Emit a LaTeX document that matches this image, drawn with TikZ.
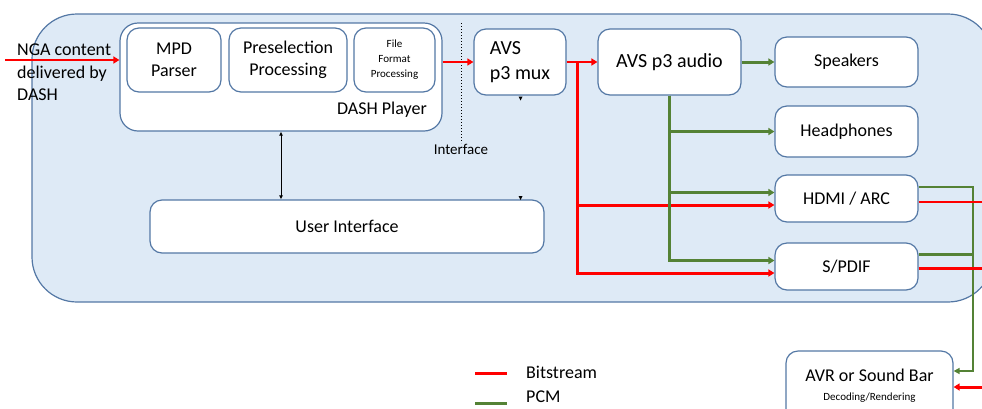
\documentclass[tikz,border=0pt]{standalone}
\usepackage{fontspec}
\setmainfont{Carlito}
\usetikzlibrary{arrows.meta,calc}
\definecolor{bxline}{RGB}{84,120,165}
\definecolor{bgblue}{RGB}{222,234,246}
\definecolor{pcmgreen}{RGB}{84,130,53}
\definecolor{bsred}{RGB}{255,0,0}
\tikzset{
 box/.style={draw=bxline, line width=1.2pt, fill=white, rounded corners=12pt, inner sep=0pt, align=center, font=\fontsize{18}{22}\selectfont},
 outerbox/.style={draw=bxline, line width=1.2pt, fill=bgblue, rounded corners=45pt},
 bs/.style={draw=bsred, line width=3pt},
 bsmid/.style={draw=bsred, line width=2.2pt},
 bsthin/.style={draw=bsred, line width=1.3pt},
 pcm/.style={draw=pcmgreen, line width=3pt},
 pcmthin/.style={draw=pcmgreen, line width=2pt},
 tipr/.style={-{Triangle[length=6pt,width=7pt]}},
 txt/.style={inner sep=0pt, font=\fontsize{18}{22}\selectfont},
 blk/.style={draw=black, line width=1pt},
}
\begin{document}
\begin{tikzpicture}[x=1pt,y=-1pt]
\useasboundingbox (0,0) rectangle (982,408);
\clip (0,0) rectangle (982,408);
% outer container
\draw[outerbox] (32,14) rectangle (993,302);
% DASH player group
\node[box, rounded corners=18pt, minimum width=322pt, minimum height=108pt] (dash) at (281,77) {};
\node[box, minimum width=94pt, minimum height=64pt] (mpd) at (174,60) {MPD\\Parser};
\node[box, minimum width=118pt, minimum height=64pt] (presel) at (288,60) {Preselection\\Processing};
\node[box, minimum width=81pt, minimum height=64pt, font=\fontsize{11}{15}\selectfont] (ffp) at (394.5,60) {File\\Format\\Processing};
\node[txt] (dashlbl) at (382,110) {DASH Player};
% other boxes
\node[box, minimum width=92pt, minimum height=66pt, font=\fontsize{20}{24.5}\selectfont, align=left] (mux) at (520,62) {AVS\\p3 mux};
\node[box, minimum width=143pt, minimum height=66pt, font=\fontsize{20}{24}\selectfont] (audio) at (669.5,62) {AVS p3 audio};
\node[box, minimum width=143pt, minimum height=50pt] (spk) at (846.5,62) {Speakers};
\node[box, minimum width=143pt, minimum height=51pt] (hp) at (846.5,131.5) {Headphones};
\node[box, minimum width=143pt, minimum height=47pt] (hdmi) at (846.5,198.5) {HDMI / ARC};
\node[box, minimum width=143pt, minimum height=47pt] (spdif) at (846.5,266.5) {S/PDIF};
\node[box, minimum width=394pt, minimum height=53pt] (ui) at (347,226.5) {User Interface};
\node[box, minimum width=167pt, minimum height=70pt] (avr) at (869.5,386) {AVR or Sound Bar\\[-3pt]{\fontsize{11}{13}\selectfont Decoding/Rendering}};
% input text and arrow
\node[txt, font=\fontsize{18}{22.5}\selectfont, align=left, anchor=west] (nga) at (17,72.5) {NGA content\\delivered by\\DASH};
\coordinate (in) at (5,60);
\draw[bsmid, tipr] (in) -- (dash.west |- in);
% interface marker
\draw[black, line width=1pt, dotted] (461,23) -- (461,143);
\node[txt, font=\fontsize{15}{17}\selectfont] (iflbl) at (461,149) {Interface};
% bitstream path
\draw[bsthin, tipr] (dash.east |- mux.west) -- (mux.west);
\draw[bsmid, tipr] (mux.east) -- (audio.west);
\coordinate (rb) at (577,62);
\draw[bs, tipr] (rb) |- ([yshift=-6.5pt]hdmi.west);
\draw[bs, tipr] (rb) |- ([yshift=-6.5pt]spdif.west);
% PCM paths
\draw[pcm, tipr] (audio.east) -- (spk.west);
\draw[pcm, tipr] (audio.south) |- (hp.west);
\draw[pcm, tipr] (audio.south) |- ([yshift=6pt]hdmi.west);
\draw[pcm, tipr] (audio.south) |- ([yshift=6pt]spdif.west);
% outputs to AVR
\coordinate (gc) at (973,371);
\coordinate (edge) at (990,0);
\draw[pcmthin, -{Triangle[length=6pt,width=6pt]}] ([yshift=11.5pt]hdmi.east) -| (gc) -- ([yshift=15pt]avr.east);
\coordinate (s1) at ([yshift=12.5pt]spdif.east);
\draw[pcm] (s1) -- (s1 -| gc);
\coordinate (h2) at ([yshift=-3.5pt]hdmi.east);
\draw[bsthin] (h2) -- (h2 -| edge);
\coordinate (s2) at ([yshift=-1.5pt]spdif.east);
\draw[bs] (s2) -- (s2 -| edge);
\coordinate (ain) at ([yshift=-1pt]avr.east -| edge);
\draw[bs, tipr] (ain) -- ([yshift=-1pt]avr.east);
% DASH player <-> user interface
\draw[blk, {Latex[length=4pt,width=4pt]}-{Latex[length=4pt,width=4pt]}] (dash.south) -- (dash.south |- ui.north);
% small marks
\fill[black] (518.5,96.5) -- (522.5,96.5) -- (520.5,100.5) -- cycle;
\fill[black] (518.5,196) -- (522.5,196) -- (520.5,200) -- cycle;
% legend
\coordinate (l1a) at (475,373.5); \coordinate (l1b) at (507,373.5);
\coordinate (l2a) at (475,403); \coordinate (l2b) at (507,403);
\draw[bs] (l1a) -- (l1b);
\draw[pcm] (l2a) -- (l2b);
\node[txt, anchor=west] (lgbs) at (526,372) {Bitstream};
\node[txt, anchor=west] (lgpcm) at (526,397) {PCM};
\end{tikzpicture}
\end{document}
